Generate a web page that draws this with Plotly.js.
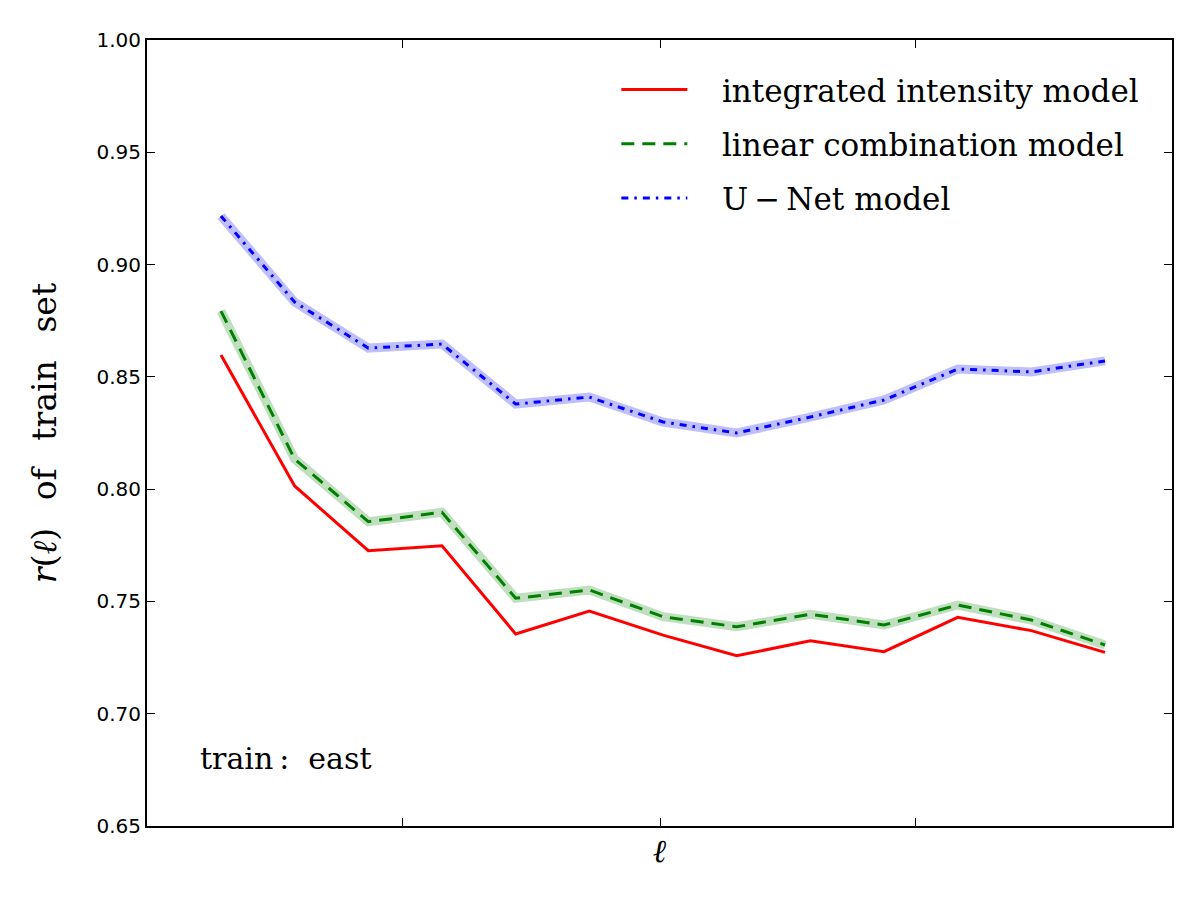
<!DOCTYPE html>
<html>
<head>
<meta charset="utf-8">
<script src="https://cdn.plot.ly/plotly-3.0.1.min.js"></script>
<style>
  html, body { margin: 0; padding: 0; background: #ffffff; }
  #chart { width: 1200px; height: 900px; }
</style>
</head>
<body>
<div id="chart"></div>
<script>
// multipole index positions (evenly spaced samples along ℓ)
const ellIndex = [0, 1, 2, 3, 4, 5, 6, 7, 8, 9, 10, 11, 12];

// correlation r(ℓ) on the training set, one array per model
const integratedIntensity = [0.8597, 0.8014, 0.7726, 0.7748, 0.7355, 0.7457, 0.7350, 0.7258, 0.7325, 0.7276, 0.7429, 0.7370, 0.7273];
const linearCombination   = [0.8793, 0.8134, 0.7855, 0.7897, 0.7514, 0.7551, 0.7432, 0.7387, 0.7443, 0.7395, 0.7484, 0.7417, 0.7306];
const uNet                = [0.9216, 0.8833, 0.8628, 0.8646, 0.8379, 0.8410, 0.8299, 0.8250, 0.8321, 0.8397, 0.8535, 0.8522, 0.8571];

const seriesNames = ['integrated intensity model', 'linear combination model', 'U\u2009\u2212\u2009Net model'];
const yTickVals = [0.65, 0.70, 0.75, 0.80, 0.85, 0.90, 0.95, 1.00];

const serif = 'DejaVu Serif, Liberation Serif, serif';
const gap = '\u00a0\u00a0\u00a0';

// soft uncertainty bands drawn under the lines
function band(y, color, group) {
  return {
    x: ellIndex, y: y, type: 'scatter', mode: 'lines',
    line: { color: color, width: 9 },
    hoverinfo: 'skip', showlegend: false, legendgroup: group
  };
}

const traces = [
  band(linearCombination, 'rgba(0,128,0,0.25)', 'g2'),
  band(uNet, 'rgba(0,0,255,0.25)', 'g3'),
  {
    x: ellIndex, y: integratedIntensity, type: 'scatter', mode: 'lines',
    name: gap + seriesNames[0], legendgroup: 'g1',
    line: { color: '#ff0000', width: 3 }
  },
  {
    x: ellIndex, y: linearCombination, type: 'scatter', mode: 'lines',
    name: gap + seriesNames[1], legendgroup: 'g2',
    line: { color: '#007f00', width: 3, dash: '13px,8px' }
  },
  {
    x: ellIndex, y: uNet, type: 'scatter', mode: 'lines',
    name: gap + seriesNames[2], legendgroup: 'g3',
    line: { color: '#0000ff', width: 3, dash: '7px,6px,2.5px,6px' }
  }
];

const layout = {
  width: 1200, height: 900,
  margin: { l: 147, r: 28, t: 40, b: 74, pad: 0 },
  paper_bgcolor: '#ffffff', plot_bgcolor: '#ffffff',
  showlegend: true,
  legend: {
    x: 0.973, xanchor: 'right', y: 0.971, yanchor: 'top',
    bgcolor: 'rgba(0,0,0,0)', borderwidth: 0,
    font: { family: serif, size: 31, color: '#000' },
    tracegroupgap: 11, itemwidth: 66
  },
  xaxis: {
    range: [-1.004, 12.909],
    tickmode: 'array', tickvals: [2.47, 5.96, 9.43],
    showticklabels: false,
    ticks: 'inside', ticklen: 8, tickwidth: 1, tickcolor: '#000',
    showline: true, linecolor: '#000', linewidth: 2, mirror: 'ticks',
    showgrid: false, zeroline: false,
    title: { text: '<i>ℓ</i>', font: { family: serif, size: 32, color: '#000' }, standoff: 13 }
  },
  yaxis: {
    range: [0.65, 1.00],
    tickmode: 'array', tickvals: yTickVals, tickformat: '.2f',
    ticks: 'inside', ticklen: 8, tickwidth: 1, tickcolor: '#000',
    tickfont: { family: 'DejaVu Sans, sans-serif', size: 20, color: '#000' },
    showline: true, linecolor: '#000', linewidth: 2, mirror: 'ticks',
    showgrid: false, zeroline: false,
    title: {
      text: '<i>r</i>(<i>ℓ</i>)\u00a0\u00a0\u2009of\u00a0\u00a0\u2009train\u00a0\u00a0\u2009set',
      font: { family: serif, size: 33, color: '#000' }, standoff: 30
    }
  },
  annotations: [{
    xref: 'paper', yref: 'paper', x: 0.05, y: 0.0865,
    xanchor: 'left', yanchor: 'middle', showarrow: false,
    text: 'train\u2009:\u00a0\u00a0east',
    font: { family: serif, size: 30, color: '#000' }
  }]
};

Plotly.newPlot('chart', traces, layout, { displayModeBar: false, staticPlot: true });
</script>
</body>
</html>
